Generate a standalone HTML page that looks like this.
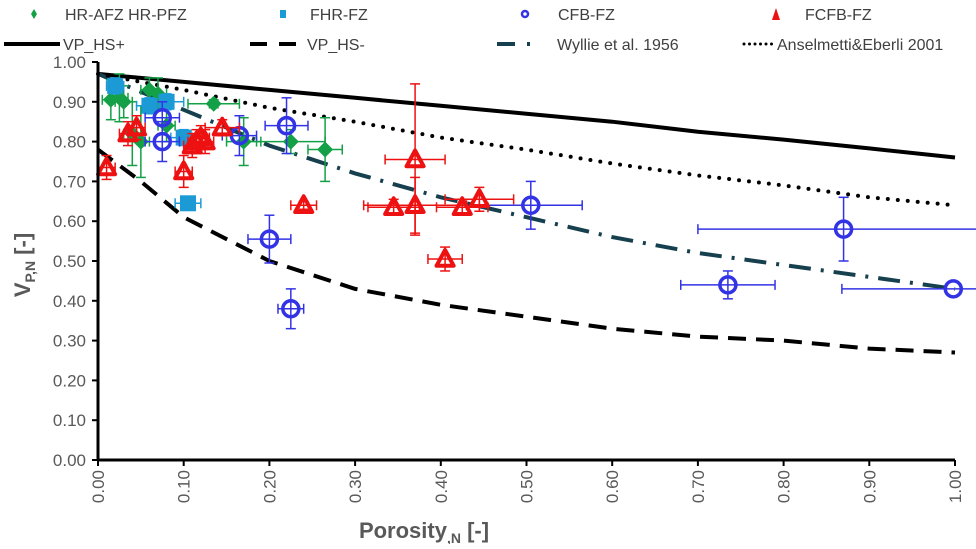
<!DOCTYPE html>
<html><head><meta charset="utf-8">
<style>
html,body{margin:0;padding:0;background:#fff;}
svg text{font-family:"Liberation Sans",Arial,sans-serif;}
</style></head>
<body>
<svg id="chart" width="976" height="544" xmlns="http://www.w3.org/2000/svg">
<rect width="976" height="544" fill="#fff"/>
<g id="curves"></g><g id="points"></g><g id="axes"></g><g id="legend"></g>
</svg>
<script>
const xTicks=[0,0.1,0.2,0.3,0.4,0.5,0.6,0.7,0.8,0.9,1.0];
const yTicks=[0,0.1,0.2,0.3,0.4,0.5,0.6,0.7,0.8,0.9,1.0];
const curveX=[0,0.1,0.2,0.3,0.4,0.5,0.6,0.7,0.8,0.9,1.0];
const hsPlus=[0.97,0.95,0.93,0.91,0.89,0.87,0.85,0.825,0.805,0.783,0.76];
const hsMinusX=[0,0.05,0.1,0.2,0.3,0.4,0.5,0.6,0.7,0.8,0.9,1.0];
const hsMinus=[0.78,0.70,0.61,0.50,0.43,0.39,0.36,0.33,0.31,0.30,0.28,0.27];
const wyllie=[0.97,0.88,0.79,0.72,0.66,0.61,0.56,0.52,0.49,0.46,0.43];
const anselmetti=[0.97,0.93,0.885,0.85,0.81,0.78,0.745,0.715,0.69,0.66,0.64];
// [porosity, vp, xerr, yerr]
const greenPts=[[0.015,0.905,0.01,0.05],[0.025,0.91,0.01,0.06],[0.03,0.90,0.01,0.04],[0.04,0.82,0.01,0.08],[0.05,0.80,0.01,0.09],[0.06,0.93,0.01,0.03],[0.07,0.92,0.01,0.04],[0.08,0.84,0.01,0.04],[0.135,0.895,0.03,0.01],[0.17,0.80,0.02,0.06],[0.225,0.80,0.04,0.03],[0.265,0.78,0.02,0.08]];
const bluePts=[[0.02,0.94,0.01,0.02],[0.06,0.89,0.015,0.02],[0.08,0.90,0.02,0.02],[0.10,0.81,0.015,0.02],[0.105,0.645,0.015,0.01]];
const circlePts=[[0.075,0.80,0.02,0.05],[0.075,0.86,0.02,0.04],[0.165,0.815,0.02,0.05],[0.22,0.84,0.025,0.07],[0.20,0.555,0.025,0.06],[0.225,0.38,0.015,0.05],[0.505,0.64,0.06,0.06],[0.735,0.44,0.055,0.035],[0.87,0.58,0.17,0.08],[0.998,0.43,0.13,0.0]];
const triPts=[[0.01,0.735,0.01,0.03],[0.035,0.82,0.01,0.03],[0.045,0.835,0.01,0.03],[0.10,0.725,0.01,0.04],[0.11,0.79,0.01,0.03],[0.115,0.80,0.01,0.03],[0.12,0.81,0.01,0.03],[0.125,0.80,0.01,0.03],[0.145,0.835,0.02,0.02],[0.24,0.64,0.015,0.01],[0.345,0.635,0.03,0.02],[0.37,0.755,0.035,0.19],[0.37,0.64,0.06,0.07],[0.405,0.505,0.02,0.03],[0.425,0.635,0.03,0.02],[0.445,0.655,0.04,0.03]];

const X0=98,X1=955,Y0=460,Y1=62;
const sx=v=>X0+(X1-X0)*v;
const sy=v=>Y0-(Y0-Y1)*v;
const NS="http://www.w3.org/2000/svg";
function mk(tag,attrs,parent){const e=document.createElementNS(NS,tag);for(const k in attrs)e.setAttribute(k,attrs[k]);parent.appendChild(e);return e;}
const axes=document.getElementById('axes'),curves=document.getElementById('curves'),pts=document.getElementById('points'),leg=document.getElementById('legend');

let ax=mk('line',{x1:X0,y1:Y0,x2:X1,y2:Y0,stroke:'#000','stroke-width':3},axes);

let ay=mk('line',{x1:X0,y1:Y0,x2:X0,y2:Y1,stroke:'#000','stroke-width':3},axes);

xTicks.forEach(v=>{
  mk('line',{x1:sx(v),y1:Y0,x2:sx(v),y2:Y0+6,stroke:'#000','stroke-width':2},axes);
  const t=mk('text',{x:sx(v)+6,y:Y0+10,'font-size':17,fill:'#595959','text-anchor':'end',transform:`rotate(-90 ${sx(v)+6} ${Y0+10})`},axes);
  t.textContent=v.toFixed(2);
  
});
yTicks.forEach(v=>{
  mk('line',{x1:X0-6,y1:sy(v),x2:X0,y2:sy(v),stroke:'#000','stroke-width':2},axes);
  const t=mk('text',{x:X0-12,y:sy(v)+6,'font-size':17,fill:'#595959','text-anchor':'end'},axes);
  t.textContent=v.toFixed(2);
  
});
let xt=mk('text',{x:424,y:538,'font-size':22,'font-weight':'bold',fill:'#595959','text-anchor':'middle'},axes);
xt.innerHTML='Porosity<tspan font-size="14" dy="5">,N</tspan><tspan dy="-5"> [-]</tspan>';

let yt=mk('text',{x:30,y:265,'font-size':22,'font-weight':'bold',fill:'#595959','text-anchor':'middle',transform:'rotate(-90 30 265)'},axes);
yt.innerHTML='V<tspan font-size="14" dy="5">P,N</tspan><tspan dy="-5"> [-]</tspan>';


function curve(xs,ys,style,name){
  const d=xs.map((x,i)=>(i?'L':'M')+sx(x).toFixed(1)+' '+sy(ys[i]).toFixed(1)).join(' ');
  const p=mk('path',Object.assign({d:d,fill:'none'},style),curves);
  
}
curve(curveX,hsPlus,{stroke:'#000','stroke-width':4},'vp-hs-plus-line');
curve(hsMinusX,hsMinus,{stroke:'#000','stroke-width':4,'stroke-dasharray':'18 10'},'vp-hs-minus-line');
curve(curveX,wyllie,{stroke:'#17404f','stroke-width':4,'stroke-dasharray':'22 10 3 10'},'wyllie-line');
curve(curveX,anselmetti,{stroke:'#000','stroke-width':4,'stroke-dasharray':'0 10','stroke-linecap':'round'},'anselmetti-line');

function errbars(p,color,g){
  const [x,y,ex,ey]=p;const c=5;
  if(ex>0){mk('line',{x1:sx(x-ex),y1:sy(y),x2:sx(x+ex),y2:sy(y),stroke:color,'stroke-width':1.5},g);
    mk('line',{x1:sx(x-ex),y1:sy(y)-c,x2:sx(x-ex),y2:sy(y)+c,stroke:color,'stroke-width':1.5},g);
    mk('line',{x1:sx(x+ex),y1:sy(y)-c,x2:sx(x+ex),y2:sy(y)+c,stroke:color,'stroke-width':1.5},g);}
  if(ey>0){mk('line',{x1:sx(x),y1:sy(y-ey),x2:sx(x),y2:sy(y+ey),stroke:color,'stroke-width':1.5},g);
    mk('line',{x1:sx(x)-c,y1:sy(y-ey),x2:sx(x)+c,y2:sy(y-ey),stroke:color,'stroke-width':1.5},g);
    mk('line',{x1:sx(x)-c,y1:sy(y+ey),x2:sx(x)+c,y2:sy(y+ey),stroke:color,'stroke-width':1.5},g);}
}
function marker(type,cx,cy,g,s){
  if(type==='diamond')return mk('polygon',{points:`${cx},${cy-s} ${cx+s},${cy} ${cx},${cy+s} ${cx-s},${cy}`,fill:'#13a046'},g);
  if(type==='square')return mk('rect',{x:cx-s,y:cy-s,width:2*s,height:2*s,fill:'#1b9ad6'},g);
  if(type==='circle')return mk('circle',{cx:cx,cy:cy,r:s,fill:'none',stroke:'#3333e6','stroke-width':3.5},g);
  return mk('polygon',{points:`${cx},${cy-s} ${cx+s*0.95},${cy+s*0.75} ${cx-s*0.95},${cy+s*0.75}`,fill:'none',stroke:'#ee1111','stroke-width':4,'stroke-linejoin':'round'},g);
}
function series(data,type,color,size,name){
  const g=mk('g',{},pts);
  
  data.forEach(p=>{errbars(p,color,g);});
  data.forEach(p=>{const m=marker(type,sx(p[0]),sy(p[1]),g,size);
    });
}
series(greenPts,'diamond','#13a046',8,'hr-afz-hr-pfz');
series(bluePts,'square','#1b9ad6',8,'fhr-fz');
series(circlePts,'circle','#3333e6',8,'cfb-fz');
series(triPts,'triangle','#ee1111',9,'fcfb-fz');

// legend row 1
function legG(name){const g=mk('g',{},leg);return g;}
let g1=legG('legend-hr-afz');
mk('polygon',{points:'34,9 37,14 34,19 31,14',fill:'#13a046'},g1);
mk('text',{x:65,y:20,'font-size':16,fill:'#404040'},g1).textContent='HR-AFZ HR-PFZ';
let g2=legG('legend-fhr-fz');
mk('rect',{x:280,y:10,width:6,height:8,fill:'#1b9ad6'},g2);
mk('text',{x:310,y:20,'font-size':16,fill:'#404040'},g2).textContent='FHR-FZ';
let g3=legG('legend-cfb-fz');
mk('circle',{cx:525,cy:14,r:3,fill:'none',stroke:'#3333e6','stroke-width':2.5},g3);
mk('text',{x:558,y:20,'font-size':16,fill:'#404040'},g3).textContent='CFB-FZ';
let g4=legG('legend-fcfb-fz');
mk('polygon',{points:'776,8 780,20 772,20',fill:'#ee1111'},g4);
mk('text',{x:805,y:20,'font-size':16,fill:'#404040'},g4).textContent='FCFB-FZ';
// legend row 2
let g5=legG('legend-vp-hs-plus');
mk('line',{x1:4,y1:44,x2:60,y2:44,stroke:'#000','stroke-width':4},g5);
mk('text',{x:63,y:50,'font-size':16,fill:'#404040'},g5).textContent='VP_HS+';
let g6=legG('legend-vp-hs-minus');
mk('line',{x1:250,y1:44,x2:302,y2:44,stroke:'#000','stroke-width':4,'stroke-dasharray':'17 12'},g6);
mk('text',{x:307,y:50,'font-size':16,fill:'#404040'},g6).textContent='VP_HS-';
let g7=legG('legend-wyllie');
mk('line',{x1:497,y1:44,x2:537,y2:44,stroke:'#17404f','stroke-width':4,'stroke-dasharray':'18 12 3 20'},g7);
mk('text',{x:557,y:50,'font-size':16,fill:'#404040'},g7).textContent='Wyllie et al. 1956';
let g8=legG('legend-anselmetti');
mk('line',{x1:744,y1:44,x2:774,y2:44,stroke:'#000','stroke-width':3,'stroke-dasharray':'0 5.5','stroke-linecap':'round'},g8);
mk('text',{x:777,y:50,'font-size':16,fill:'#404040'},g8).textContent='Anselmetti&Eberli 2001';
</script>
</body></html>
